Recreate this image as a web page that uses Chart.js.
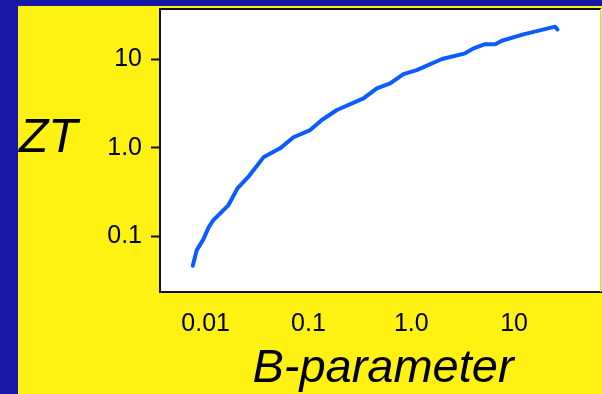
<!DOCTYPE html>
<html>
<head>
<meta charset="utf-8">
<title>ZT vs B-parameter</title>
<script src="https://cdn.jsdelivr.net/npm/chart.js@4.4.1/dist/chart.umd.min.js"></script>
<style>
  html, body { margin: 0; padding: 0; background: #1818a8; overflow: hidden; }
  #panel { position: absolute; left: 18px; top: 6px; width: 584px; height: 388px; background: #fff212; }
</style>
</head>
<body>
<div id="panel"><canvas id="ztChart" width="584" height="388"></canvas></div>
<script>
// B-parameter (x) and figure of merit ZT (y), both on log scales
const bParam = [0.0075, 0.0082, 0.0095, 0.0107, 0.0119, 0.0167, 0.0204, 0.0261, 0.0365, 0.053,
  0.0715, 0.104, 0.135, 0.189, 0.343, 0.462, 0.623, 0.84, 1.13, 1.99,
  3.34, 4.03, 5.23, 6.55, 7.6, 12.3, 25.1, 26.4];
const ztValues = [0.0465, 0.0698, 0.0923, 0.126, 0.152, 0.225, 0.347, 0.47, 0.777, 0.982,
  1.31, 1.58, 2.05, 2.66, 3.6, 4.67, 5.32, 6.77, 7.51, 10.0,
  11.6, 13.2, 14.7, 14.7, 16.1, 19.0, 23.2, 21.6];

const xTickValues = [0.01, 0.1, 1, 10];
const xTickLabels = ["0.01", "0.1", "1.0", "10"];
const yTickValues = [0.1, 1, 10];
const yTickLabels = ["0.1", "1.0", "10"];

const FONT = "'Liberation Sans', Arial, Helvetica, sans-serif";

// white plot box, frame lines and the two axis titles
const framePlugin = {
  id: "frame",
  beforeDraw(chart) {
    const { ctx, chartArea: a } = chart;
    ctx.save();
    ctx.fillStyle = "#ffffff";
    ctx.fillRect(a.left, a.top, a.right - a.left, a.bottom - a.top);
    ctx.restore();
  },
  afterDraw(chart) {
    const { ctx, chartArea: a } = chart;
    ctx.save();
    ctx.lineWidth = 2;
    ctx.strokeStyle = "#111111";
    ctx.beginPath();
    ctx.moveTo(a.left, a.top);
    ctx.lineTo(a.right, a.top);
    ctx.stroke();
    ctx.strokeStyle = "#c8c8c8";
    ctx.lineWidth = 1;
    ctx.beginPath();
    ctx.moveTo(a.right - 0.5, a.top);
    ctx.lineTo(a.right - 0.5, a.bottom);
    ctx.stroke();

    ctx.fillStyle = "#000000";
    ctx.textBaseline = "alphabetic";
    ctx.font = "italic 48px " + FONT;
    ctx.textAlign = "left";
    ctx.fillText("ZT", 1, 146);
    ctx.font = "italic 47px " + FONT;
    ctx.textAlign = "center";
    ctx.fillText("B-parameter", 365, 376);
    ctx.restore();
  }
};

// no extra room for half tick labels at the ends of the axes
function noEdgePadding(scale) {
  scale.paddingTop = 0;
  scale.paddingBottom = 0;
  scale.paddingLeft = 0;
  scale.paddingRight = 0;
}

const ctx = document.getElementById("ztChart").getContext("2d");

new Chart(ctx, {
  type: "scatter",
  data: {
    datasets: [
      {
        data: bParam.map((b, i) => ({ x: b, y: ztValues[i] })),
        showLine: true,
        borderColor: "#0b5cff",
        borderWidth: 4,
        borderJoinStyle: "round",
        borderCapStyle: "round",
        tension: 0,
        pointRadius: 0,
        fill: false,
      },
    ],
  },
  options: {
    responsive: false,
    animation: false,
    layout: { padding: { top: 3, right: 1, left: 0, bottom: 0 } },
    plugins: {
      legend: { display: false },
      tooltip: { enabled: false },
    },
    scales: {
      x: {
        type: "logarithmic",
        min: 0.0036,
        max: 70,
        afterFit: (scale) => { scale.height = 102; noEdgePadding(scale); },
        afterBuildTicks: (scale) => {
          scale.ticks = xTickValues.map((v) => ({ value: v }));
        },
        grid: { display: false, drawTicks: false },
        border: { display: true, color: "#111111", width: 2 },
        ticks: {
          autoSkip: false,
          maxRotation: 0,
          padding: 17,
          color: "#000000",
          font: { family: FONT, size: 25 },
          callback: (value) => xTickLabels[xTickValues.indexOf(value)],
        },
      },
      y: {
        type: "logarithmic",
        min: 0.0235,
        max: 36.7,
        afterFit: (scale) => { scale.width = 142; noEdgePadding(scale); },
        afterBuildTicks: (scale) => {
          scale.ticks = yTickValues.map((v) => ({ value: v }));
        },
        grid: {
          drawOnChartArea: false,
          drawTicks: true,
          tickLength: 9,
          tickWidth: 2,
          tickColor: "#111111",
        },
        border: { display: true, color: "#111111", width: 2 },
        ticks: {
          autoSkip: false,
          padding: 9,
          color: "#000000",
          font: { family: FONT, size: 25 },
          callback: (value) => yTickLabels[yTickValues.indexOf(value)],
        },
      },
    },
  },
  plugins: [framePlugin],
});
</script>
</body>
</html>
